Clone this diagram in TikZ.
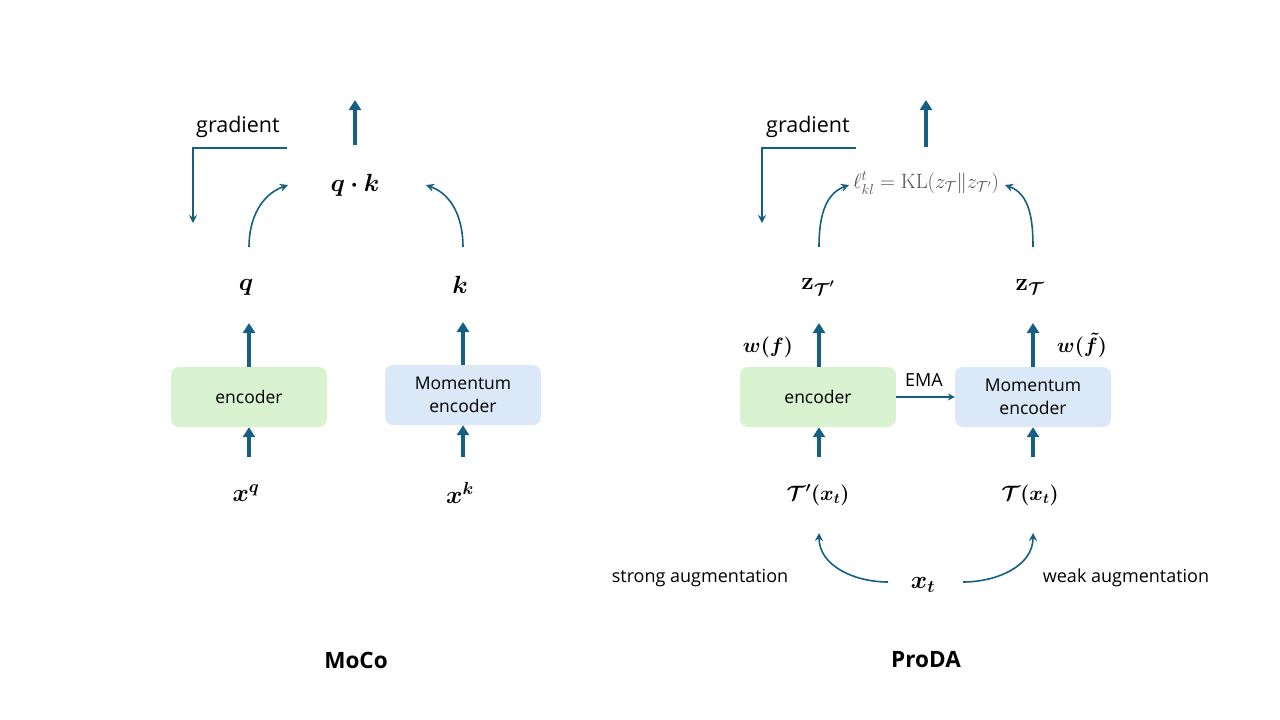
\documentclass[tikz,border=0pt]{standalone}
\usepackage{amsmath,bm}
\usepackage[no-math]{fontspec}
\setmainfont{Open Sans}
\usetikzlibrary{arrows.meta}
\definecolor{ac}{HTML}{156082}
\definecolor{encg}{HTML}{D9F2D0}
\definecolor{encb}{HTML}{DAE8F7}
\definecolor{klg}{HTML}{505050}
\tikzset{
  thick arr/.style={draw=ac, line width=3.6pt, -{Triangle[width=12pt,length=10pt]}},
  thin arr/.style={draw=ac, line width=1.6pt, -{Stealth[width=8pt,length=8pt]}},
  boxg/.style={rounded corners=8pt, fill=encg, draw=none, minimum width=156pt, minimum height=60pt, align=center, font=\fontsize{17.5}{23}\selectfont},
  boxb/.style={rounded corners=8pt, fill=encb, draw=none, minimum width=156pt, minimum height=60pt, align=center, font=\fontsize{17.5}{23}\selectfont},
  mathlbl/.style={inner sep=0pt, font=\fontsize{22}{24}\selectfont},
  bigmath/.style={inner sep=0pt, font=\fontsize{24}{26}\selectfont},
  txt/.style={inner sep=0pt, font=\fontsize{18}{20}\selectfont},
  gtxt/.style={inner sep=0pt, font=\fontsize{21.5}{24}\selectfont},
  title/.style={inner sep=0pt, font=\fontsize{22.5}{26}\selectfont\bfseries},
}
\begin{document}
\begin{tikzpicture}[x=1pt,y=-1pt]
\useasboundingbox (0,0) rectangle (1280,720);
% ===== MoCo =====
\coordinate (mTop1) at (355,145);
\coordinate (mTop2) at (355,100);
\draw[thick arr] (mTop1) -- (mTop2);
\node[gtxt] (mgrad) at (238,127) {gradient};
\coordinate (mg1) at (287,148);
\coordinate (mg2) at (193,148);
\coordinate (mg3) at (193,223);
\draw[thin arr] (mg1) -- (mg2) -- (mg3);
\node[bigmath] (qk) at (355,185) {$\bm{q\cdot k}$};
\node[bigmath] (q) at (246,287) {$\bm{q}$};
\node[bigmath] (k) at (460,285) {$\bm{k}$};
\coordinate (qs) at (249,247);
\coordinate (qe) at (288,185);
\coordinate (ks) at (463,247);
\coordinate (ke) at (426,185);
\draw[thin arr] (qs) to[out=90,in=200] (qe);
\draw[thin arr] (ks) to[out=90,in=-20] (ke);
\node[boxg] (menc) at (249,397) {encoder};
\node[boxb] (mmom) at (463,395) {Momentum\\encoder};
\coordinate (qa) at (249,323);
\coordinate (ka) at (463,322);
\draw[thick arr] (menc.north) -- (qa);
\draw[thick arr] (mmom.north) -- (ka);
\coordinate (xqa) at (249,457);
\coordinate (xka) at (463,457);
\draw[thick arr] (xqa) -- (menc.south);
\draw[thick arr] (xka) -- (mmom.south);
\node[bigmath] (xq) at (246,493) {$\bm{x^{q}}$};
\node[bigmath] (xk) at (460,493) {$\bm{x^{k}}$};
\node[title] (moco) at (356,660) {MoCo};
% ===== ProDA =====
\coordinate (pTop1) at (926,147);
\coordinate (pTop2) at (926,100);
\draw[thick arr] (pTop1) -- (pTop2);
\node[gtxt] (pgrad) at (808,127) {gradient};
\coordinate (pg1) at (856,148);
\coordinate (pg2) at (762,148);
\coordinate (pg3) at (762,223);
\draw[thin arr] (pg1) -- (pg2) -- (pg3);
\node[inner sep=0pt, text=klg, font=\fontsize{20}{22}\selectfont] (kl) at (926,183) {$\ell^{t}_{kl}=\mathrm{KL}(z_{\mathcal{T}}\|z_{\mathcal{T}'})$};
\node[bigmath] (zp) at (818,287) {$\mathbf{z}_{\bm{\mathcal{T}'}}$};
\node[bigmath] (z) at (1030,287) {$\mathbf{z}_{\bm{\mathcal{T}}}$};
\coordinate (zps) at (819,247);
\coordinate (zpe) at (849,185);
\coordinate (zs) at (1033,247);
\coordinate (ze) at (1005,185);
\draw[thin arr] (zps) to[out=90,in=200] (zpe);
\draw[thin arr] (zs) to[out=90,in=-20] (ze);
\node[boxg] (penc) at (818,397) {encoder};
\node[boxb] (pmom) at (1033,397) {Momentum\\encoder};
\draw[draw=ac, line width=1.4pt, -{Stealth[width=7pt,length=7pt]}] (penc.east) -- (pmom.west);
\node[txt] (ema) at (924,380) {EMA};
\coordinate (zpa) at (819,323);
\coordinate (za) at (1033,323);
\draw[thick arr] (penc.north -| zpa) -- (zpa);
\draw[thick arr] (pmom.north -| za) -- (za);
\node[mathlbl] (wf) at (768,347) {$\bm{w(f)}$};
\node[mathlbl] (wft) at (1082,345) {$\bm{w(\tilde{f})}$};
\coordinate (tpa) at (819,457);
\coordinate (ta) at (1033,457);
\draw[thick arr] (tpa) -- (penc.south -| tpa);
\draw[thick arr] (ta) -- (pmom.south -| ta);
\node[mathlbl] (tp) at (818,495) {$\bm{\mathcal{T}'(x_t)}$};
\node[mathlbl] (t) at (1030,495) {$\bm{\mathcal{T}(x_t)}$};
\node[bigmath] (xt) at (923,585) {$\bm{x_t}$};
\coordinate (cl0) at (888,582);
\coordinate (cl1) at (819,533);
\coordinate (cr0) at (963,582);
\coordinate (cr1) at (1033,533);
\draw[thin arr] (cl0) to[out=180,in=-90] (cl1);
\draw[thin arr] (cr0) to[out=0,in=-90] (cr1);
\node[txt] (strong) at (700,578) {strong augmentation};
\node[txt] (weak) at (1126,578) {weak augmentation};
\node[title] (proda) at (926,660) {ProDA};
\end{tikzpicture}
\end{document}
